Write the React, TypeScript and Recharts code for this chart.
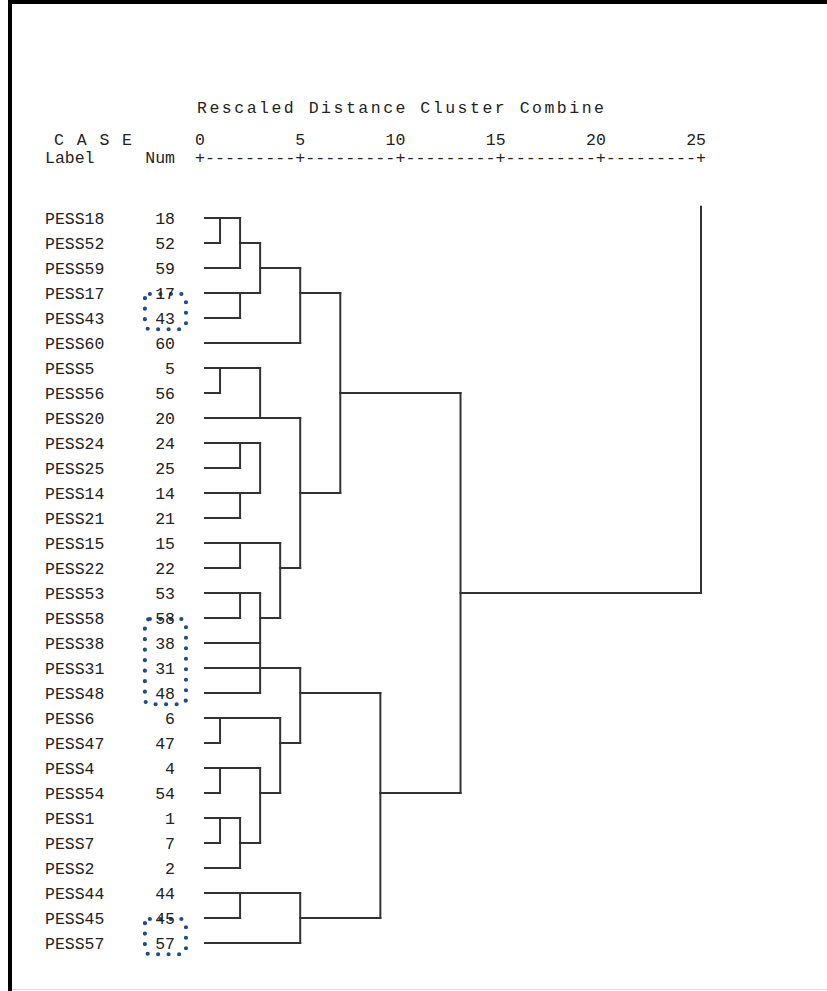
import { ScatterChart, Scatter, XAxis, YAxis, ReferenceLine, ReferenceArea } from "recharts";

// cases in the order the dendrogram lists them (top to bottom)
const caseLabels = [
  "PESS18", "PESS52", "PESS59", "PESS17", "PESS43", "PESS60", "PESS5", "PESS56", "PESS20", "PESS24",
  "PESS25", "PESS14", "PESS21", "PESS15", "PESS22", "PESS53", "PESS58", "PESS38", "PESS31", "PESS48",
  "PESS6", "PESS47", "PESS4", "PESS54", "PESS1", "PESS7", "PESS2", "PESS44", "PESS45", "PESS57",
];
const caseNums = [18, 52, 59, 17, 43, 60, 5, 56, 20, 24, 25, 14, 21, 15, 22, 53, 58, 38, 31, 48, 6, 47, 4, 54, 1, 7, 2, 44, 45, 57];

// rescaled distance each case's own branch runs out to
const leafReach = [2, 1, 2, 3, 2, 5, 3, 1, 5, 3, 2, 3, 2, 4, 2, 3, 2, 3, 5, 3, 4, 1, 3, 1, 2, 1, 2, 5, 2, 5];
const LEAF_START = 0.25;

// vertical joins: [distance, top row, bottom row]
const joins: [number, number, number][] = [
  [1, 0, 1], [1, 6, 7], [1, 20, 21], [1, 22, 23], [1, 24, 25],
  [2, 0, 2], [2, 3, 4], [2, 9, 10], [2, 11, 12], [2, 13, 14], [2, 15, 16], [2, 24, 26], [2, 27, 28],
  [3, 1, 3], [3, 6, 8], [3, 9, 11], [3, 15, 19], [3, 22, 25],
  [4, 13, 16], [4, 20, 23],
  [5, 2, 5], [5, 8, 14], [5, 18, 21], [5, 27, 29],
  [7, 3, 11], [9, 19, 28], [13, 7, 23], [25, -0.45, 15],
];

// merged clusters carried on to the next join: [row, from distance, to distance]
const carries: [number, number, number][] = [
  [1, 2, 3], [2, 3, 5], [3, 5, 7], [11, 5, 7], [7, 7, 13],
  [16, 3, 4], [14, 4, 5], [21, 4, 5], [25, 2, 3], [23, 3, 4],
  [28, 5, 9], [19, 5, 9], [23, 9, 13], [15, 13, 25],
];

const distanceTicks = [0, 5, 10, 15, 20, 25];
const rowTicks = caseLabels.map((_, i) => i);

// rows circled with the dotted marker: [first row, last row]
const markedGroups: [number, number][] = [[3, 4], [16, 19], [28, 29]];

const W = 827;
const H = 991;
const PLOT_LEFT = 200;
const PLOT_W = 501;
const MONO = "'Liberation Mono', 'DejaVu Sans Mono', monospace";
const INK = "#222";
const LINE = "#333";

const leafPoints = caseLabels.map((_, i) => ({ d: LEAF_START, row: i }));

function CaseTick(props: any) {
  const { y, payload } = props;
  const i = payload.value as number;
  return (
    <g fontFamily={MONO} fontSize={16.5} fill={INK}>
      <text x={45} y={y} dy="0.36em">{caseLabels[i]}</text>
      <text x={175} y={y} dy="0.36em" textAnchor="end">{caseNums[i]}</text>
    </g>
  );
}

function DistanceTick(props: any) {
  const { x, payload } = props;
  const v = payload.value as number;
  const step = (PLOT_W / 25) * 5;
  return (
    <g fontFamily={MONO} fontSize={16.5} fill={INK}>
      <text x={x + 5} y={145} textAnchor="end">{v}</text>
      {v < 25 ? (
        <text x={x - 5} y={163} textLength={step} lengthAdjust="spacingAndGlyphs">+---------</text>
      ) : (
        <text x={x - 5} y={163}>+</text>
      )}
    </g>
  );
}

function DottedBox(props: any) {
  const { x, y, width, height } = props;
  return (
    <rect
      x={x}
      y={y}
      width={width}
      height={height}
      rx={5}
      fill="none"
      stroke="#1d4b8c"
      strokeWidth={4.2}
      strokeLinecap="round"
      strokeDasharray="0 10.5"
    />
  );
}

export default function App() {
  return (
    <div style={{ position: "absolute", left: 0, top: 0, width: W, height: H, background: "#fff", overflow: "hidden" }}>
      <ScatterChart width={W} height={H} margin={{ top: 133, right: W - PLOT_LEFT - PLOT_W, bottom: 23, left: 0 }}>
        <XAxis
          type="number"
          dataKey="d"
          orientation="top"
          domain={[0, 25]}
          ticks={distanceTicks}
          interval={0}
          height={60}
          axisLine={false}
          tickLine={false}
          tick={<DistanceTick />}
        />
        <YAxis
          type="number"
          dataKey="row"
          domain={[-1, 30]}
          reversed
          ticks={rowTicks}
          interval={0}
          width={PLOT_LEFT}
          axisLine={false}
          tickLine={false}
          tick={<CaseTick />}
        />
        {caseLabels.map((_, i) => (
          <ReferenceLine
            key={`leaf-${i}`}
            segment={[{ x: LEAF_START, y: i }, { x: leafReach[i], y: i }]}
            stroke={LINE}
            strokeWidth={2}
            strokeLinecap="square"
            ifOverflow="visible"
          />
        ))}
        {carries.map(([row, from, to], i) => (
          <ReferenceLine
            key={`carry-${i}`}
            segment={[{ x: from, y: row }, { x: to, y: row }]}
            stroke={LINE}
            strokeWidth={2}
            strokeLinecap="square"
            ifOverflow="visible"
          />
        ))}
        {joins.map(([d, top, bottom], i) => (
          <ReferenceLine
            key={`join-${i}`}
            segment={[{ x: d, y: top }, { x: d, y: bottom }]}
            stroke={LINE}
            strokeWidth={2}
            strokeLinecap="square"
            ifOverflow="visible"
          />
        ))}
        {markedGroups.map(([a, b], i) => (
          <ReferenceArea
            key={`mark-${i}`}
            x1={-2.75}
            x2={-0.7}
            y1={a + 0.04}
            y2={b + 0.45}
            ifOverflow="visible"
            shape={<DottedBox />}
          />
        ))}
        <Scatter data={leafPoints} fill="none" shape={() => <g />} isAnimationActive={false} />
      </ScatterChart>

      <svg width={W} height={H} style={{ position: "absolute", left: 0, top: 0, pointerEvents: "none" }}>
        <rect x={8} y={0} width={W - 8} height={4} fill="#000" />
        <rect x={8} y={0} width={4} height={H} fill="#000" />
        <rect x={12} y={H - 2} width={W - 12} height={1} fill="#ddd" />
        <g fontFamily={MONO} fontSize={16.5} fill={INK}>
          <text x={197} y={113} textLength={407} lengthAdjust="spacing">Rescaled Distance Cluster Combine</text>
          <text x={54} y={145} textLength={78} lengthAdjust="spacing">C A S E</text>
          <text x={45} y={163}>Label</text>
          <text x={175} y={163} textAnchor="end">Num</text>
        </g>
      </svg>
    </div>
  );
}
